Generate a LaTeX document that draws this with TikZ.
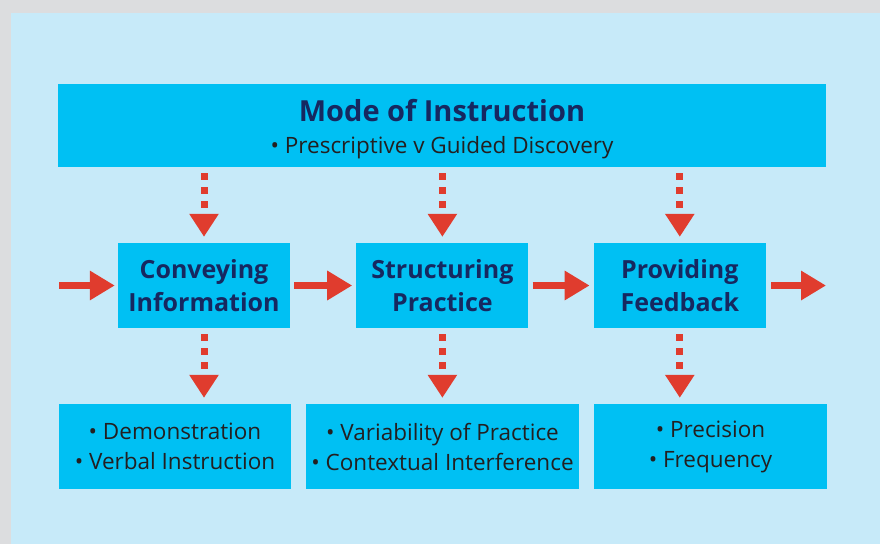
\documentclass[tikz,border=0pt]{standalone}
\usepackage{fontspec}
\setmainfont{Open Sans}
\usetikzlibrary{positioning, arrows.meta}
\definecolor{framegray}{RGB}{220,221,223}
\definecolor{panelblue}{RGB}{199,234,249}
\definecolor{boxblue}{RGB}{0,192,243}
\definecolor{navy}{RGB}{22,40,96}
\definecolor{textdark}{RGB}{35,31,32}
\definecolor{arrowred}{RGB}{224,60,46}

\begin{document}
\begin{tikzpicture}[
        x=1pt, y=-1pt,
        node distance=76pt and 66pt,
        box/.style={rectangle, fill=boxblue, minimum height=85pt, align=center, inner sep=0pt},
        stage/.style={box, minimum width=172pt, text=navy, font=\fontsize{25}{33}\selectfont\bfseries},
        detail/.style={box, text=textdark, font=\fontsize{22.5}{30}\selectfont},
        flow/.style={-{Triangle[length=25pt, width=28pt]}, line width=7pt, draw=arrowred, shorten <=4pt, shorten >=4pt},
        feed/.style={-{Triangle[length=23pt, width=28pt]}, line width=7pt, draw=arrowred, dash pattern=on 7pt off 7pt, shorten <=6pt, shorten >=6pt}
    ]
        \fill[framegray] (0,0) rectangle (880,544);
        \fill[panelblue] (11,13) rectangle (880,544);

        \node[box, minimum width=768pt, minimum height=83pt, text=textdark, font=\fontsize{22.5}{32}\selectfont] (mode) at (442,125.5)
            {\rule{0pt}{29pt}\textcolor{navy}{\fontsize{29}{32}\selectfont\bfseries Mode of Instruction}\\ • Prescriptive v Guided Discovery};

        \node[stage] (conv) at (204,285.5) {Conveying\\Information};
        \node[stage, right=of conv] (struct) {Structuring\\Practice};
        \node[stage, right=65pt of struct] (prov) {Providing\\Feedback};

        \node[detail, minimum width=232pt] (demo) at (175,446.5) {• Demonstration\\• Verbal Instruction};
        \node[detail, minimum width=273pt] (vari) at (442.5,446.5) {• Variability of Practice\\• Contextual Interference};
        \node[detail, minimum width=233pt] (prec) at (710.5,446.5) {• Precision\\• Frequency};

        \coordinate (in) at (59,285.5);
        \coordinate (out) at (826,285.5);

        \draw[flow, shorten <=0pt, shorten >=3pt] (in) -- (conv.west);
        \draw[flow] (conv) -- (struct);
        \draw[flow] (struct) -- (prov);
        \draw[flow, shorten <=5pt, shorten >=0pt] (prov.east) -- (out);

        \draw[feed] (mode.south -| conv.north) -- (conv.north);
        \draw[feed] (mode.south -| struct.north) -- (struct.north);
        \draw[feed] (mode.south -| prov.north) -- (prov.north);
        \draw[feed] (conv.south) -- (conv.south |- demo.north);
        \draw[feed] (struct.south) -- (struct.south |- vari.north);
        \draw[feed] (prov.south) -- (prov.south |- prec.north);
    \end{tikzpicture}
\end{document}
